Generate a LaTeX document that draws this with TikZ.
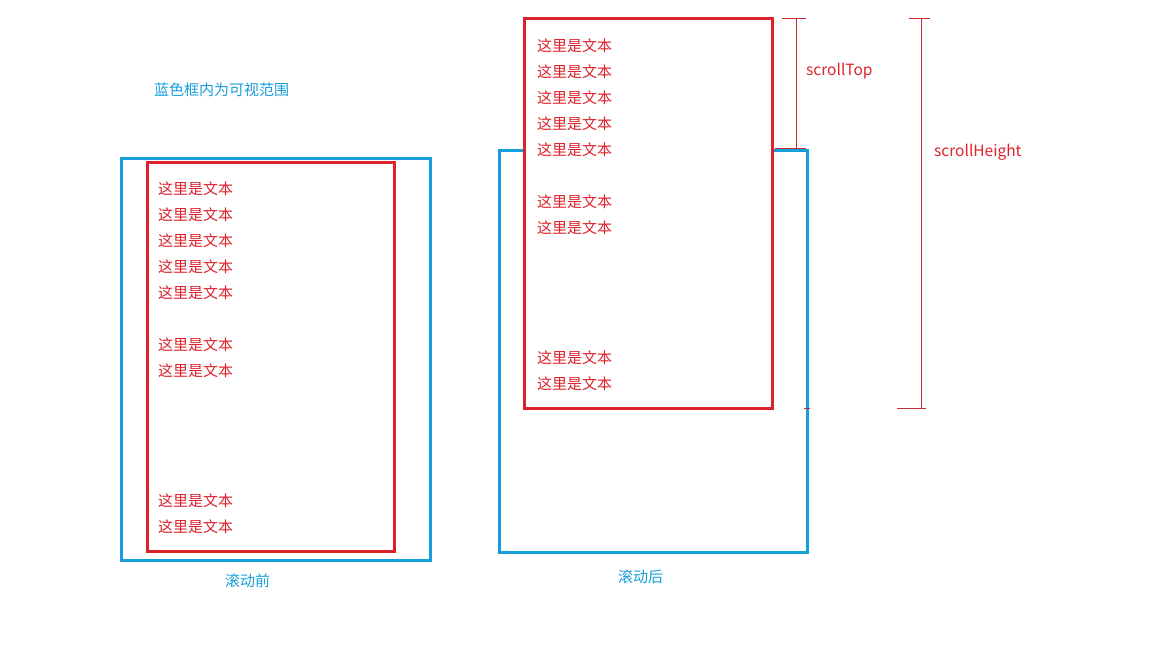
\documentclass[tikz,border=0pt]{standalone}
\usepackage{fontspec}
\setmainfont{Noto Sans CJK SC}
\definecolor{vblue}{RGB}{22,158,218}
\definecolor{cred}{RGB}{222,34,44}
\definecolor{dred}{RGB}{196,44,52}
\begin{document}
\begin{tikzpicture}[x=1pt,y=-1pt,
  bluebox/.style={draw=vblue,line width=3pt},
  redbox/.style={draw=cred,line width=3pt,fill=white},
  itemtxt/.style={text=cred,font=\fontsize{15}{15}\selectfont,anchor=west,inner sep=0pt},
  bluetxt/.style={text=vblue,font=\fontsize{15}{15}\selectfont,anchor=west,inner sep=0pt},
  measure/.style={draw=dred,line width=1pt},
  measuretxt/.style={text=cred,font=\fontsize{15.5}{15.5}\selectfont,anchor=west,inner sep=0pt}]
\useasboundingbox (0,0) rectangle (1152,648);
% left
\node[bluetxt] (lbl) at (154,90) {蓝色框内为可视范围};
\draw[bluebox] (121,158) rectangle (430,560);
\draw[redbox] (147,162) rectangle (394,551);
\foreach \y [count=\i] in {189,215,241,267,293,345,371,501,527}
  \node[itemtxt] (l\i) at (158,\y) {这里是文本};
\node[bluetxt] (before) at (225,581) {滚动前};
% right
\draw[bluebox] (499,150) rectangle (807,552);
\draw[redbox] (524,18) rectangle (772,408);
\foreach \y [count=\i] in {46,72,98,124,150,202,228,358,384}
  \node[itemtxt] (r\i) at (537,\y) {这里是文本};
\node[bluetxt] (after) at (618,577) {滚动后};
% scrollTop
\coordinate (st1) at (796,18);
\coordinate (st2) at (796,148);
\draw[measure] (st1) -- (st2);
\draw[measure] (782,18) -- (806,18);
\draw[measure] (775,148) -- (806,148);
\node[measuretxt] (stt) at (806,71) {scrollTop};
% scrollHeight
\coordinate (sh1) at (921,18);
\coordinate (sh2) at (921,408);
\draw[measure] (sh1) -- (sh2);
\draw[measure] (909,18) -- (930,18);
\draw[measure] (897,408) -- (926,408);
\draw[measure,line width=0.6pt] (804,408) -- (810,408);
\node[measuretxt] (sht) at (934,152) {scrollHeight};
\end{tikzpicture}
\end{document}
